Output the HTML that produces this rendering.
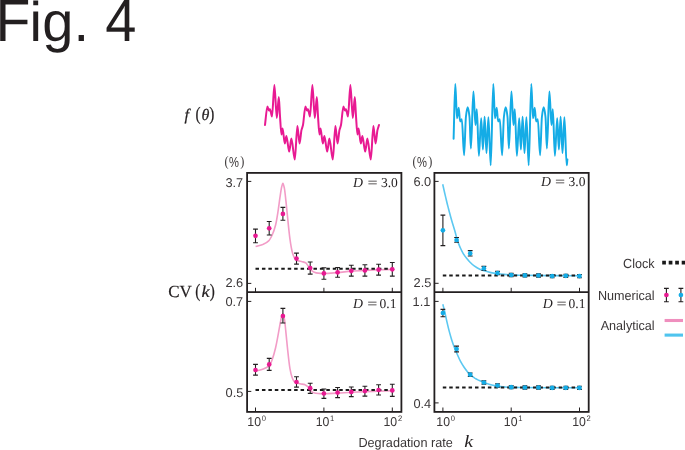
<!DOCTYPE html>
<html lang="en"><head><meta charset="utf-8"><title>Fig. 4</title>
<style>html,body{margin:0;padding:0;background:#fff;overflow:hidden}svg{display:block}</style>
</head><body>
<svg width="685" height="450" viewBox="0 0 685 450" text-rendering="geometricPrecision">
<rect width="685" height="450" fill="#fff"/>
<text font-family="'Liberation Sans',Arial,sans-serif" fill="#231f20"><tspan x="-4.60" y="40.90" font-size="59.70" textLength="34.89" lengthAdjust="spacingAndGlyphs">F</tspan><tspan x="29.50" y="40.90" font-size="56.00">i</tspan><tspan x="42.30" y="40.90" font-size="56.00">g.</tspan> <tspan x="105.20" y="40.90" font-size="59.70" textLength="31.14" lengthAdjust="spacingAndGlyphs">4</tspan></text>
<path d="M265.0 125.0C265.7 119.4 266.7 106.4 267.4 106.4C267.9 106.4 268.5 110.4 269.0 110.4C269.3 110.4 269.7 109.2 270.0 109.2C270.6 109.2 271.4 116.6 272.0 116.6C272.7 116.6 273.7 85.0 274.4 85.0C275.1 85.0 276.1 118.0 276.8 118.0C277.4 118.0 278.2 97.0 278.8 97.0C279.2 97.0 279.6 110.8 280.0 116.0C280.4 122.0 281.0 134.4 281.4 134.4C281.8 134.4 282.2 128.4 282.6 128.4C283.3 128.4 284.1 143.6 284.8 143.6C285.3 143.6 285.9 136.0 286.4 136.0C287.2 136.0 288.4 151.6 289.2 151.6C289.9 151.6 290.7 138.6 291.4 138.6C292.4 138.6 293.8 159.6 294.8 159.6C295.6 159.6 296.6 126.0 297.4 126.0C298.1 126.0 298.9 143.6 299.6 143.6C300.1 143.6 300.9 132.9 301.4 130.4C301.9 128.2 302.5 127.3 303.0 125.0C303.7 121.6 304.7 106.4 305.4 106.4C305.9 106.4 306.5 110.4 307.0 110.4C307.3 110.4 307.7 109.2 308.0 109.2C308.6 109.2 309.4 116.6 310.0 116.6C310.7 116.6 311.7 85.0 312.4 85.0C313.1 85.0 314.1 118.0 314.8 118.0C315.4 118.0 316.2 97.0 316.8 97.0C317.2 97.0 317.6 110.8 318.0 116.0C318.4 122.0 319.0 134.4 319.4 134.4C319.8 134.4 320.2 128.4 320.6 128.4C321.3 128.4 322.1 143.6 322.8 143.6C323.3 143.6 323.9 136.0 324.4 136.0C325.2 136.0 326.4 151.6 327.2 151.6C327.9 151.6 328.7 138.6 329.4 138.6C330.4 138.6 331.8 159.6 332.8 159.6C333.6 159.6 334.6 126.0 335.4 126.0C336.1 126.0 336.9 143.6 337.6 143.6C338.1 143.6 338.9 132.9 339.4 130.4C339.9 128.2 340.5 127.3 341.0 125.0C341.7 121.6 342.7 106.4 343.4 106.4C343.9 106.4 344.5 110.4 345.0 110.4C345.3 110.4 345.7 109.2 346.0 109.2C346.6 109.2 347.4 116.6 348.0 116.6C348.7 116.6 349.7 85.0 350.4 85.0C351.1 85.0 352.1 118.0 352.8 118.0C353.4 118.0 354.2 97.0 354.8 97.0C355.2 97.0 355.6 110.8 356.0 116.0C356.4 122.0 357.0 134.4 357.4 134.4C357.8 134.4 358.2 128.4 358.6 128.4C359.3 128.4 360.1 143.6 360.8 143.6C361.3 143.6 361.9 136.0 362.4 136.0C363.2 136.0 364.4 151.6 365.2 151.6C365.9 151.6 366.7 138.6 367.4 138.6C368.4 138.6 369.8 159.6 370.8 159.6C371.6 159.6 372.6 126.0 373.4 126.0C374.1 126.0 374.9 143.6 375.6 143.6C376.1 143.6 376.9 132.9 377.4 130.4C377.9 128.2 378.5 126.6 379.0 125.0" fill="none" stroke="#e81a92" stroke-width="2.0" stroke-linejoin="round" stroke-linecap="round"/>
<path d="M453.6 138.7C454.2 119.0 454.7 84.0 455.3 84.0C455.9 84.0 456.4 118.2 457.0 118.2C457.6 118.2 458.1 107.7 458.7 107.7C459.2 107.7 459.6 121.4 460.1 121.4C460.7 121.4 461.2 119.3 461.8 119.3C462.6 119.3 463.3 155.2 464.1 155.2C464.7 155.2 465.3 122.6 465.9 117.0C466.5 111.4 467.1 107.2 467.7 107.2C468.3 107.2 468.9 111.3 469.5 117.0C470.0 121.4 470.4 148.4 470.9 148.4C471.8 148.4 472.5 91.4 473.4 91.4C474.2 91.4 474.7 125.0 475.5 125.0C476.0 125.0 476.3 109.1 476.8 109.1C477.6 109.1 478.1 155.8 478.9 155.8C479.7 155.8 480.4 118.2 481.2 118.2C481.8 118.2 482.3 149.5 482.9 149.5C483.5 149.5 484.0 116.7 484.6 116.7C485.3 116.7 485.8 153.0 486.5 153.0C487.2 153.0 487.7 117.2 488.4 117.2C489.2 117.2 489.9 165.3 490.7 165.3C491.6 165.3 492.4 84.0 493.3 84.0C493.9 84.0 494.4 118.2 495.0 118.2C495.6 118.2 496.1 107.7 496.7 107.7C497.2 107.7 497.6 121.4 498.1 121.4C498.7 121.4 499.2 119.3 499.8 119.3C500.6 119.3 501.3 155.2 502.1 155.2C502.7 155.2 503.3 122.6 503.9 117.0C504.5 111.4 505.1 107.2 505.7 107.2C506.3 107.2 506.9 111.3 507.5 117.0C508.0 121.4 508.4 148.4 508.9 148.4C509.8 148.4 510.5 91.4 511.4 91.4C512.2 91.4 512.7 125.0 513.5 125.0C514.0 125.0 514.3 109.1 514.8 109.1C515.6 109.1 516.1 155.8 516.9 155.8C517.7 155.8 518.4 118.2 519.2 118.2C519.8 118.2 520.3 149.5 520.9 149.5C521.5 149.5 522.0 116.7 522.6 116.7C523.3 116.7 523.8 153.0 524.5 153.0C525.2 153.0 525.7 117.2 526.4 117.2C527.2 117.2 527.9 165.3 528.7 165.3C529.6 165.3 530.4 84.0 531.3 84.0C531.9 84.0 532.4 118.2 533.0 118.2C533.6 118.2 534.1 107.7 534.7 107.7C535.2 107.7 535.6 121.4 536.1 121.4C536.7 121.4 537.2 119.3 537.8 119.3C538.6 119.3 539.3 155.2 540.1 155.2C540.7 155.2 541.3 122.6 541.9 117.0C542.5 111.4 543.1 107.2 543.7 107.2C544.3 107.2 544.9 111.3 545.5 117.0C546.0 121.4 546.4 148.4 546.9 148.4C547.8 148.4 548.5 91.4 549.4 91.4C550.2 91.4 550.7 125.0 551.5 125.0C552.0 125.0 552.3 109.1 552.8 109.1C553.6 109.1 554.1 155.8 554.9 155.8C555.7 155.8 556.4 118.2 557.2 118.2C557.8 118.2 558.3 149.5 558.9 149.5C559.5 149.5 560.0 116.7 560.6 116.7C561.3 116.7 561.8 153.0 562.5 153.0C563.2 153.0 563.7 117.2 564.4 117.2C565.2 117.2 565.9 165.3 566.7 165.3C567.0 165.3 567.1 161.5 567.4 159.4" fill="none" stroke="#14ace6" stroke-width="1.95" stroke-linejoin="round" stroke-linecap="round"/>
<path d="M255.6 246.6C258.1 245.8 260.8 245.3 263.3 244.3C265.1 243.5 267.1 242.4 268.9 240.6C270.0 239.6 271.1 237.3 272.2 235.0C273.3 232.6 274.5 229.3 275.6 225.0C276.3 222.2 277.1 217.3 277.8 212.8C278.5 208.3 279.3 202.0 280.0 197.2C280.5 193.7 281.1 189.3 281.6 187.2C282.0 185.5 282.5 183.3 282.9 183.3C283.4 183.3 283.9 185.9 284.4 188.3C284.9 190.8 285.5 196.9 286.0 201.7C286.6 207.1 287.2 213.8 287.8 219.4C288.5 226.3 289.3 234.4 290.0 239.4C290.7 244.4 291.5 249.0 292.2 251.7C292.9 254.4 293.7 256.6 294.4 257.7C295.3 259.1 296.2 260.3 297.1 260.6C298.8 261.2 300.5 261.3 302.2 261.7C303.3 262.0 304.5 262.2 305.6 262.8C306.5 263.2 307.3 264.9 308.2 266.1C308.9 267.0 309.5 268.6 310.2 269.3C311.4 270.5 312.5 271.4 313.7 271.9C315.2 272.5 316.7 273.0 318.2 273.1C320.0 273.3 322.0 273.4 323.8 273.4C328.3 273.4 333.0 272.9 337.5 272.6C342.0 272.3 346.7 271.4 351.2 271.1C355.7 270.8 360.3 270.6 364.8 270.4C369.3 270.2 373.8 270.0 378.3 269.8C382.9 269.6 387.6 269.5 392.2 269.4" fill="none" stroke="#f29cc7" stroke-width="1.6" stroke-linejoin="round"/>
<path d="M255.6 371.1C258.1 370.4 260.8 369.9 263.3 368.9C265.3 368.2 267.3 367.3 269.3 365.6C270.3 364.8 271.2 362.1 272.2 359.6C273.3 356.7 274.5 352.4 275.6 347.8C276.3 344.8 277.1 340.6 277.8 336.7C278.5 332.8 279.3 328.2 280.0 324.4C280.5 321.7 281.1 318.3 281.6 316.7C282.0 315.4 282.5 313.8 282.9 313.8C283.4 313.8 283.9 316.5 284.4 318.9C284.9 321.5 285.5 328.3 286.0 333.3C286.6 338.9 287.2 345.8 287.8 351.1C288.5 357.6 289.3 365.0 290.0 368.9C290.7 372.8 291.5 376.0 292.2 377.8C292.9 379.6 293.7 381.3 294.4 381.8C295.1 382.3 295.8 382.4 296.5 382.7C297.7 383.1 298.8 383.6 300.0 383.8C301.5 384.1 302.9 384.1 304.4 384.4C305.5 384.7 306.7 385.7 307.8 386.7C308.6 387.4 309.4 389.2 310.2 390.0C311.4 391.2 312.5 392.5 313.7 392.8C315.2 393.2 316.7 393.4 318.2 393.5C320.0 393.6 322.0 393.8 323.8 393.8C328.3 393.8 333.0 393.3 337.5 393.1C342.0 392.9 346.7 392.5 351.2 392.3C355.7 392.1 360.3 391.8 364.8 391.6C369.3 391.4 373.8 391.2 378.3 391.1C382.9 391.0 387.6 390.9 392.2 390.8" fill="none" stroke="#f29cc7" stroke-width="1.6" stroke-linejoin="round"/>
<path d="M442.7 184.2C443.6 188.0 444.4 191.9 445.3 195.6C446.2 199.3 447.0 203.0 447.9 206.4C449.2 211.3 450.4 216.0 451.7 220.4C452.9 224.6 454.1 228.2 455.3 232.5C455.9 234.7 456.6 237.9 457.2 239.8C458.2 243.0 459.3 245.5 460.3 247.8C461.2 249.9 462.2 251.8 463.1 253.3C464.2 255.1 465.3 256.7 466.4 258.1C467.5 259.5 468.7 260.9 469.8 262.0C471.3 263.5 472.7 264.9 474.2 265.9C476.0 267.2 478.0 268.4 479.8 269.2C481.6 270.0 483.5 270.6 485.3 271.1C487.1 271.7 489.1 272.2 490.9 272.6C493.1 273.1 495.4 273.4 497.6 273.7C499.8 274.0 502.0 274.2 504.2 274.4C506.6 274.6 509.0 274.9 511.4 275.0C514.9 275.1 518.5 275.3 522.0 275.3C541.0 275.6 560.5 275.6 579.5 275.8" fill="none" stroke="#5cc8f1" stroke-width="1.6" stroke-linejoin="round"/>
<path d="M442.8 304.3C443.4 306.5 444.0 308.6 444.6 311.1C445.4 314.4 446.2 318.7 447.0 322.1C447.8 325.5 448.6 328.9 449.4 331.9C450.2 335.0 451.1 337.9 451.9 340.5C452.7 343.0 453.5 345.3 454.3 347.3C455.1 349.4 456.0 351.3 456.8 353.2C458.0 355.9 459.2 359.0 460.4 361.2C461.6 363.5 462.9 365.5 464.1 367.3C465.3 369.1 466.6 370.8 467.8 372.2C468.6 373.1 469.4 374.0 470.2 374.7C471.8 376.1 473.5 377.4 475.1 378.4C476.3 379.1 477.6 379.7 478.8 380.3C480.5 381.1 482.2 381.9 483.9 382.5C485.8 383.2 487.9 384.0 489.8 384.5C491.8 385.1 493.9 385.6 495.9 385.9C498.9 386.4 502.0 386.8 505.0 387.0C509.9 387.3 515.0 387.5 520.0 387.5C539.6 387.7 559.9 387.7 579.5 387.8" fill="none" stroke="#5cc8f1" stroke-width="1.6" stroke-linejoin="round"/>
<path d="M255.5 268.7H393.5" stroke="#1a1a1a" stroke-width="2" stroke-dasharray="3.5 2.94" fill="none"/>

<path d="M255.5 389.9H393.5" stroke="#1a1a1a" stroke-width="2" stroke-dasharray="3.5 2.94" fill="none"/>

<path d="M442.8 275.4H581.0" stroke="#1a1a1a" stroke-width="2" stroke-dasharray="3.5 2.94" fill="none"/>

<path d="M442.8 387.6H581.0" stroke="#1a1a1a" stroke-width="2" stroke-dasharray="3.5 2.94" fill="none"/>

<path d="M255.5 229.1V242.8M253.1 229.1h4.8M253.1 242.8h4.8" stroke="#231f20" stroke-width="1.1" fill="none"/><circle cx="255.5" cy="235.8" r="2.35" fill="#e81a92"/>
<path d="M269.2 221.5V235.0M266.8 221.5h4.8M266.8 235.0h4.8" stroke="#231f20" stroke-width="1.1" fill="none"/><circle cx="269.2" cy="228.3" r="2.35" fill="#e81a92"/>
<path d="M282.9 207.4V220.3M280.5 207.4h4.8M280.5 220.3h4.8" stroke="#231f20" stroke-width="1.1" fill="none"/><circle cx="282.9" cy="213.9" r="2.35" fill="#e81a92"/>
<path d="M296.5 253.1V264.1M294.1 253.1h4.8M294.1 264.1h4.8" stroke="#231f20" stroke-width="1.1" fill="none"/><circle cx="296.5" cy="258.6" r="2.35" fill="#e81a92"/>
<path d="M310.2 262.0V274.1M307.8 262.0h4.8M307.8 274.1h4.8" stroke="#231f20" stroke-width="1.1" fill="none"/><circle cx="310.2" cy="268.0" r="2.35" fill="#e81a92"/>
<path d="M323.9 267.8V279.2M321.5 267.8h4.8M321.5 279.2h4.8" stroke="#231f20" stroke-width="1.1" fill="none"/><circle cx="323.9" cy="273.4" r="2.35" fill="#e81a92"/>
<path d="M337.6 267.5V277.2M335.2 267.5h4.8M335.2 277.2h4.8" stroke="#231f20" stroke-width="1.1" fill="none"/><circle cx="337.6" cy="272.3" r="2.35" fill="#e81a92"/>
<path d="M351.3 265.2V276.1M348.9 265.2h4.8M348.9 276.1h4.8" stroke="#231f20" stroke-width="1.1" fill="none"/><circle cx="351.3" cy="270.8" r="2.35" fill="#e81a92"/>
<path d="M364.9 264.7V276.1M362.5 264.7h4.8M362.5 276.1h4.8" stroke="#231f20" stroke-width="1.1" fill="none"/><circle cx="364.9" cy="270.4" r="2.35" fill="#e81a92"/>
<path d="M378.6 264.3V275.1M376.2 264.3h4.8M376.2 275.1h4.8" stroke="#231f20" stroke-width="1.1" fill="none"/><circle cx="378.6" cy="269.7" r="2.35" fill="#e81a92"/>
<path d="M392.3 262.5V276.1M389.9 262.5h4.8M389.9 276.1h4.8" stroke="#231f20" stroke-width="1.1" fill="none"/><circle cx="392.3" cy="269.3" r="2.35" fill="#e81a92"/>

<path d="M255.5 364.4V375.1M253.1 364.4h4.8M253.1 375.1h4.8" stroke="#231f20" stroke-width="1.1" fill="none"/><circle cx="255.5" cy="370.0" r="2.35" fill="#e81a92"/>
<path d="M269.2 358.4V370.4M266.8 358.4h4.8M266.8 370.4h4.8" stroke="#231f20" stroke-width="1.1" fill="none"/><circle cx="269.2" cy="364.4" r="2.35" fill="#e81a92"/>
<path d="M282.9 308.4V323.0M280.5 308.4h4.8M280.5 323.0h4.8" stroke="#231f20" stroke-width="1.1" fill="none"/><circle cx="282.9" cy="316.0" r="2.35" fill="#e81a92"/>
<path d="M296.5 376.7V387.1M294.1 376.7h4.8M294.1 387.1h4.8" stroke="#231f20" stroke-width="1.1" fill="none"/><circle cx="296.5" cy="382.0" r="2.35" fill="#e81a92"/>
<path d="M310.2 383.2V393.4M307.8 383.2h4.8M307.8 393.4h4.8" stroke="#231f20" stroke-width="1.1" fill="none"/><circle cx="310.2" cy="388.2" r="2.35" fill="#e81a92"/>
<path d="M323.9 389.0V398.4M321.5 389.0h4.8M321.5 398.4h4.8" stroke="#231f20" stroke-width="1.1" fill="none"/><circle cx="323.9" cy="393.5" r="2.35" fill="#e81a92"/>
<path d="M337.6 387.5V397.6M335.2 387.5h4.8M335.2 397.6h4.8" stroke="#231f20" stroke-width="1.1" fill="none"/><circle cx="337.6" cy="392.6" r="2.35" fill="#e81a92"/>
<path d="M351.3 387.0V396.6M348.9 387.0h4.8M348.9 396.6h4.8" stroke="#231f20" stroke-width="1.1" fill="none"/><circle cx="351.3" cy="391.9" r="2.35" fill="#e81a92"/>
<path d="M364.9 386.3V396.1M362.5 386.3h4.8M362.5 396.1h4.8" stroke="#231f20" stroke-width="1.1" fill="none"/><circle cx="364.9" cy="391.1" r="2.35" fill="#e81a92"/>
<path d="M378.6 384.7V395.0M376.2 384.7h4.8M376.2 395.0h4.8" stroke="#231f20" stroke-width="1.1" fill="none"/><circle cx="378.6" cy="390.0" r="2.35" fill="#e81a92"/>
<path d="M392.3 384.3V396.4M389.9 384.3h4.8M389.9 396.4h4.8" stroke="#231f20" stroke-width="1.1" fill="none"/><circle cx="392.3" cy="390.4" r="2.35" fill="#e81a92"/>

<path d="M442.9 215.1V245.6M440.5 215.1h4.8M440.5 245.6h4.8" stroke="#231f20" stroke-width="1.1" fill="none"/><circle cx="442.9" cy="230.3" r="2.35" fill="#14ace6"/>
<path d="M456.6 237.5V242.3M454.2 237.5h4.8M454.2 242.3h4.8" stroke="#231f20" stroke-width="1.1" fill="none"/><circle cx="456.6" cy="240.0" r="2.35" fill="#14ace6"/>
<path d="M470.2 250.6V256.0M467.8 250.6h4.8M467.8 256.0h4.8" stroke="#231f20" stroke-width="1.1" fill="none"/><circle cx="470.2" cy="253.4" r="2.35" fill="#14ace6"/>
<path d="M483.9 266.4V270.5M481.5 266.4h4.8M481.5 270.5h4.8" stroke="#231f20" stroke-width="1.1" fill="none"/><circle cx="483.9" cy="268.4" r="2.35" fill="#14ace6"/>
<path d="M497.5 271.4V274.8M495.1 271.4h4.8M495.1 274.8h4.8" stroke="#231f20" stroke-width="1.1" fill="none"/><circle cx="497.5" cy="273.1" r="2.35" fill="#14ace6"/>
<path d="M511.2 273.4V276.6M508.8 273.4h4.8M508.8 276.6h4.8" stroke="#231f20" stroke-width="1.1" fill="none"/><circle cx="511.2" cy="275.0" r="2.35" fill="#14ace6"/>
<path d="M524.9 273.8V277.0M522.5 273.8h4.8M522.5 277.0h4.8" stroke="#231f20" stroke-width="1.1" fill="none"/><circle cx="524.9" cy="275.4" r="2.35" fill="#14ace6"/>
<path d="M538.5 273.9V277.1M536.1 273.9h4.8M536.1 277.1h4.8" stroke="#231f20" stroke-width="1.1" fill="none"/><circle cx="538.5" cy="275.5" r="2.35" fill="#14ace6"/>
<path d="M552.2 274.5V277.7M549.8 274.5h4.8M549.8 277.7h4.8" stroke="#231f20" stroke-width="1.1" fill="none"/><circle cx="552.2" cy="276.1" r="2.35" fill="#14ace6"/>
<path d="M565.8 274.2V277.4M563.4 274.2h4.8M563.4 277.4h4.8" stroke="#231f20" stroke-width="1.1" fill="none"/><circle cx="565.8" cy="275.8" r="2.35" fill="#14ace6"/>
<path d="M579.5 274.5V277.7M577.1 274.5h4.8M577.1 277.7h4.8" stroke="#231f20" stroke-width="1.1" fill="none"/><circle cx="579.5" cy="276.1" r="2.35" fill="#14ace6"/>

<path d="M442.9 309.4V316.8M440.5 309.4h4.8M440.5 316.8h4.8" stroke="#231f20" stroke-width="1.1" fill="none"/><circle cx="442.9" cy="313.0" r="2.35" fill="#14ace6"/>
<path d="M456.6 346.1V351.9M454.2 346.1h4.8M454.2 351.9h4.8" stroke="#231f20" stroke-width="1.1" fill="none"/><circle cx="456.6" cy="349.0" r="2.35" fill="#14ace6"/>
<path d="M470.2 373.0V376.4M467.8 373.0h4.8M467.8 376.4h4.8" stroke="#231f20" stroke-width="1.1" fill="none"/><circle cx="470.2" cy="374.7" r="2.35" fill="#14ace6"/>
<path d="M483.9 380.9V384.1M481.5 380.9h4.8M481.5 384.1h4.8" stroke="#231f20" stroke-width="1.1" fill="none"/><circle cx="483.9" cy="382.5" r="2.35" fill="#14ace6"/>
<path d="M497.5 383.9V387.1M495.1 383.9h4.8M495.1 387.1h4.8" stroke="#231f20" stroke-width="1.1" fill="none"/><circle cx="497.5" cy="385.5" r="2.35" fill="#14ace6"/>
<path d="M511.2 385.6V388.8M508.8 385.6h4.8M508.8 388.8h4.8" stroke="#231f20" stroke-width="1.1" fill="none"/><circle cx="511.2" cy="387.2" r="2.35" fill="#14ace6"/>
<path d="M524.9 385.9V389.1M522.5 385.9h4.8M522.5 389.1h4.8" stroke="#231f20" stroke-width="1.1" fill="none"/><circle cx="524.9" cy="387.5" r="2.35" fill="#14ace6"/>
<path d="M538.5 385.9V389.1M536.1 385.9h4.8M536.1 389.1h4.8" stroke="#231f20" stroke-width="1.1" fill="none"/><circle cx="538.5" cy="387.5" r="2.35" fill="#14ace6"/>
<path d="M552.2 386.2V389.4M549.8 386.2h4.8M549.8 389.4h4.8" stroke="#231f20" stroke-width="1.1" fill="none"/><circle cx="552.2" cy="387.8" r="2.35" fill="#14ace6"/>
<path d="M565.8 386.2V389.4M563.4 386.2h4.8M563.4 389.4h4.8" stroke="#231f20" stroke-width="1.1" fill="none"/><circle cx="565.8" cy="387.8" r="2.35" fill="#14ace6"/>
<path d="M579.5 386.2V389.4M577.1 386.2h4.8M577.1 389.4h4.8" stroke="#231f20" stroke-width="1.1" fill="none"/><circle cx="579.5" cy="387.8" r="2.35" fill="#14ace6"/>

<rect x="247.1" y="172.9" width="154.3" height="239.0" fill="none" stroke="#231f20" stroke-width="1.8"/>
<path d="M247.1 292.2H401.4" stroke="#231f20" stroke-width="1.8"/>
<rect x="434.4" y="172.9" width="154.3" height="239.0" fill="none" stroke="#231f20" stroke-width="1.8"/>
<path d="M434.4 292.2H588.7" stroke="#231f20" stroke-width="1.8"/>
<path d="M247.1 181.4h4.2M247.1 283.4h4.2M247.1 301.4h4.2M247.1 391.4h4.2M434.4 181.4h4.2M434.4 283.3h4.2M434.4 301.4h4.2M434.4 402.9h4.2M255.5 292.2v-4.4M255.5 411.9v-4.4M323.9 292.2v-4.4M323.9 411.9v-4.4M392.3 292.2v-4.4M392.3 411.9v-4.4M442.9 292.2v-4.4M442.9 411.9v-4.4M511.2 292.2v-4.4M511.2 411.9v-4.4M579.5 292.2v-4.4M579.5 411.9v-4.4" stroke="#231f20" stroke-width="1" fill="none"/>
<text font-family="'Liberation Sans',Arial,sans-serif" fill="#3a3637"><tspan x="225.41" y="186.60" font-size="12.80">3.7</tspan></text>
<text font-family="'Liberation Sans',Arial,sans-serif" fill="#3a3637"><tspan x="225.41" y="286.80" font-size="12.80">2.6</tspan></text>
<text font-family="'Liberation Sans',Arial,sans-serif" fill="#3a3637"><tspan x="225.41" y="305.50" font-size="12.80">0.7</tspan></text>
<text font-family="'Liberation Sans',Arial,sans-serif" fill="#3a3637"><tspan x="225.61" y="396.80" font-size="12.80">0.5</tspan></text>
<text font-family="'Liberation Sans',Arial,sans-serif" fill="#3a3637"><tspan x="413.41" y="186.40" font-size="12.80">6.0</tspan></text>
<text font-family="'Liberation Sans',Arial,sans-serif" fill="#3a3637"><tspan x="413.61" y="286.90" font-size="12.80">2.5</tspan></text>
<text font-family="'Liberation Sans',Arial,sans-serif" fill="#3a3637"><tspan x="412.61" y="305.60" font-size="12.80">1.1</tspan></text>
<text font-family="'Liberation Sans',Arial,sans-serif" fill="#3a3637"><tspan x="413.41" y="407.90" font-size="12.80">0.4</tspan></text>
<text font-family="'Liberation Sans',Arial,sans-serif" fill="#3a3637"><tspan x="247.30" y="425.60" font-size="12.92" textLength="13.68" lengthAdjust="spacingAndGlyphs">10</tspan><tspan x="261.70" y="421.10" font-size="7.98" textLength="4.23" lengthAdjust="spacingAndGlyphs">0</tspan></text>
<text font-family="'Liberation Sans',Arial,sans-serif" fill="#3a3637"><tspan x="315.70" y="425.60" font-size="12.92" textLength="13.68" lengthAdjust="spacingAndGlyphs">10</tspan><tspan x="330.10" y="421.10" font-size="7.98" textLength="4.23" lengthAdjust="spacingAndGlyphs">1</tspan></text>
<text font-family="'Liberation Sans',Arial,sans-serif" fill="#3a3637"><tspan x="383.50" y="425.60" font-size="12.92" textLength="13.68" lengthAdjust="spacingAndGlyphs">10</tspan><tspan x="397.90" y="421.10" font-size="7.98" textLength="4.23" lengthAdjust="spacingAndGlyphs">2</tspan></text>
<text font-family="'Liberation Sans',Arial,sans-serif" fill="#3a3637"><tspan x="436.30" y="425.60" font-size="12.92" textLength="13.68" lengthAdjust="spacingAndGlyphs">10</tspan><tspan x="450.70" y="421.10" font-size="7.98" textLength="4.23" lengthAdjust="spacingAndGlyphs">0</tspan></text>
<text font-family="'Liberation Sans',Arial,sans-serif" fill="#3a3637"><tspan x="503.80" y="425.60" font-size="12.92" textLength="13.68" lengthAdjust="spacingAndGlyphs">10</tspan><tspan x="518.20" y="421.10" font-size="7.98" textLength="4.23" lengthAdjust="spacingAndGlyphs">1</tspan></text>
<text font-family="'Liberation Sans',Arial,sans-serif" fill="#3a3637"><tspan x="572.20" y="425.60" font-size="12.92" textLength="13.68" lengthAdjust="spacingAndGlyphs">10</tspan><tspan x="586.60" y="421.10" font-size="7.98" textLength="4.23" lengthAdjust="spacingAndGlyphs">2</tspan></text>
<text font-family="'Liberation Sans',Arial,sans-serif" fill="#3a3637"><tspan x="224.60" y="166.30" font-size="14.50" font-family="'Liberation Serif','DejaVu Serif',serif" textLength="4.10" lengthAdjust="spacingAndGlyphs">(</tspan><tspan x="228.90" y="166.60" font-size="14.40" textLength="9.92" lengthAdjust="spacingAndGlyphs">%</tspan><tspan x="240.20" y="166.30" font-size="14.50" font-family="'Liberation Serif','DejaVu Serif',serif" textLength="4.10" lengthAdjust="spacingAndGlyphs">)</tspan></text>
<text font-family="'Liberation Sans',Arial,sans-serif" fill="#3a3637"><tspan x="412.60" y="166.30" font-size="14.50" font-family="'Liberation Serif','DejaVu Serif',serif" textLength="4.10" lengthAdjust="spacingAndGlyphs">(</tspan><tspan x="416.90" y="166.60" font-size="14.40" textLength="9.92" lengthAdjust="spacingAndGlyphs">%</tspan><tspan x="428.20" y="166.30" font-size="14.50" font-family="'Liberation Serif','DejaVu Serif',serif" textLength="4.10" lengthAdjust="spacingAndGlyphs">)</tspan></text>
<text font-family="'Liberation Sans',Arial,sans-serif" fill="#231f20"><tspan x="353.10" y="186.50" font-size="13.80" font-family="'Liberation Serif','DejaVu Serif',serif" font-style="italic">D</tspan> <tspan x="367.40" y="186.50" font-size="13.80" font-family="'Liberation Serif','DejaVu Serif',serif" textLength="10.12" lengthAdjust="spacingAndGlyphs">=</tspan> <tspan x="380.93" y="186.50" font-size="13.50" font-family="'Liberation Serif','DejaVu Serif',serif">3.0</tspan></text>
<text font-family="'Liberation Sans',Arial,sans-serif" fill="#231f20"><tspan x="353.10" y="307.90" font-size="13.80" font-family="'Liberation Serif','DejaVu Serif',serif" font-style="italic">D</tspan> <tspan x="367.30" y="307.90" font-size="13.80" font-family="'Liberation Serif','DejaVu Serif',serif" textLength="10.12" lengthAdjust="spacingAndGlyphs">=</tspan> <tspan x="379.62" y="307.90" font-size="13.50" font-family="'Liberation Serif','DejaVu Serif',serif">0.1</tspan></text>
<text font-family="'Liberation Sans',Arial,sans-serif" fill="#231f20"><tspan x="541.00" y="186.40" font-size="13.80" font-family="'Liberation Serif','DejaVu Serif',serif" font-style="italic">D</tspan> <tspan x="555.10" y="186.40" font-size="13.80" font-family="'Liberation Serif','DejaVu Serif',serif" textLength="10.12" lengthAdjust="spacingAndGlyphs">=</tspan> <tspan x="568.62" y="186.40" font-size="13.50" font-family="'Liberation Serif','DejaVu Serif',serif">3.0</tspan></text>
<text font-family="'Liberation Sans',Arial,sans-serif" fill="#231f20"><tspan x="542.70" y="307.90" font-size="13.80" font-family="'Liberation Serif','DejaVu Serif',serif" font-style="italic">D</tspan> <tspan x="556.50" y="307.90" font-size="13.80" font-family="'Liberation Serif','DejaVu Serif',serif" textLength="10.12" lengthAdjust="spacingAndGlyphs">=</tspan> <tspan x="568.62" y="307.90" font-size="13.50" font-family="'Liberation Serif','DejaVu Serif',serif">0.1</tspan></text>
<text font-family="'Liberation Sans',Arial,sans-serif" fill="#231f20" stroke="#231f20" stroke-width="0"><tspan x="184.40" y="119.70" font-size="16.20" font-family="'Liberation Serif','DejaVu Serif',serif" font-style="italic" stroke-width="0.22">f</tspan> <tspan x="195.60" y="120.00" font-size="19.00" font-family="'Liberation Serif','DejaVu Serif',serif" textLength="5.06" lengthAdjust="spacingAndGlyphs" stroke-width="0.22">(</tspan><tspan x="201.60" y="119.70" font-size="16.00" font-family="'Liberation Serif','DejaVu Serif',serif" font-style="italic" stroke-width="0.22">θ</tspan><tspan x="209.30" y="120.00" font-size="19.00" font-family="'Liberation Serif','DejaVu Serif',serif" textLength="5.06" lengthAdjust="spacingAndGlyphs" stroke-width="0.22">)</tspan></text>
<text font-family="'Liberation Sans',Arial,sans-serif" fill="#231f20" stroke="#231f20" stroke-width="0"><tspan x="168.20" y="296.60" font-size="17.00" font-family="'Liberation Serif','DejaVu Serif',serif" stroke-width="0.22">CV</tspan> <tspan x="195.20" y="296.60" font-size="19.00" font-family="'Liberation Serif','DejaVu Serif',serif" textLength="5.06" lengthAdjust="spacingAndGlyphs" stroke-width="0.22">(</tspan><tspan x="201.60" y="296.60" font-size="16.60" font-family="'Liberation Serif','DejaVu Serif',serif" font-style="italic" textLength="8.10" lengthAdjust="spacingAndGlyphs" stroke-width="0.22">k</tspan><tspan x="209.80" y="296.60" font-size="19.00" font-family="'Liberation Serif','DejaVu Serif',serif" textLength="5.06" lengthAdjust="spacingAndGlyphs" stroke-width="0.22">)</tspan></text>
<text font-family="'Liberation Sans',Arial,sans-serif" fill="#3a3637"><tspan x="358.40" y="447.20" font-size="13.12" textLength="94.40" lengthAdjust="spacingAndGlyphs">Degradation rate</tspan> <tspan x="464.20" y="447.20" font-size="17.40" font-family="'Liberation Serif','DejaVu Serif',serif" font-style="italic" textLength="8.88" lengthAdjust="spacingAndGlyphs" fill="#231f20">k</tspan></text>
<text font-family="'Liberation Sans',Arial,sans-serif" fill="#3a3637"><tspan x="623.09" y="267.70" font-size="13.23" textLength="31.51" lengthAdjust="spacingAndGlyphs">Clock</tspan></text>
<text font-family="'Liberation Sans',Arial,sans-serif" fill="#3a3637"><tspan x="597.89" y="299.80" font-size="13.23" textLength="56.71" lengthAdjust="spacingAndGlyphs">Numerical</tspan></text>
<text font-family="'Liberation Sans',Arial,sans-serif" fill="#3a3637"><tspan x="600.67" y="330.40" font-size="13.23" textLength="53.93" lengthAdjust="spacingAndGlyphs">Analytical</tspan></text>
<path d="M662.2 262.6H690" stroke="#1a1a1a" stroke-width="3.6" stroke-dasharray="3.7 2.8"/>
<path d="M666.4 288.4V301.8M664.0 288.4h4.8M664.0 301.8h4.8" stroke="#231f20" stroke-width="1.1" fill="none"/><circle cx="666.4" cy="295" r="2.35" fill="#e81a92"/>
<path d="M680.9 288.4V301.8M678.5 288.4h4.8M678.5 301.8h4.8" stroke="#231f20" stroke-width="1.1" fill="none"/><circle cx="680.9" cy="295" r="2.35" fill="#14ace6"/>
<path d="M664.6 320.5H683" stroke="#ef8fbe" stroke-width="3.1"/>
<path d="M664.6 335.1H683" stroke="#4fc4ee" stroke-width="3.1"/>
</svg>
</body></html>
